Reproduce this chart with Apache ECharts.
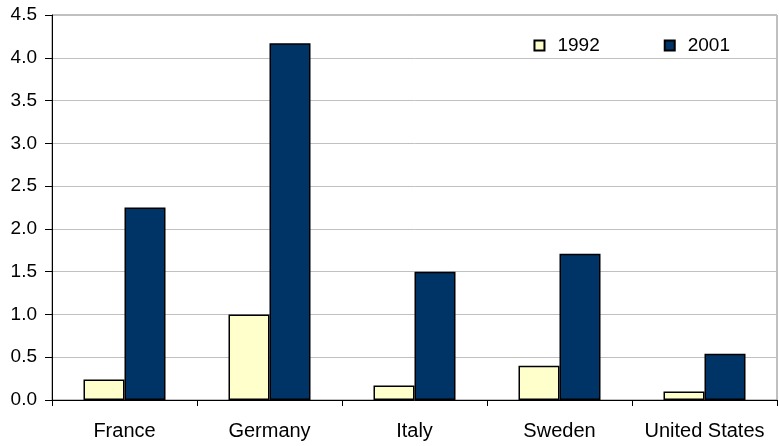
<!DOCTYPE html>
<html>
<head>
<meta charset="utf-8">
<script src="https://cdn.jsdelivr.net/npm/echarts@6/dist/echarts.min.js"></script>
<style>
  html, body { margin: 0; padding: 0; background: #fff; }
  #chart { width: 779px; height: 446px; }
</style>
</head>
<body>
<div id="chart"></div>
<script>
// Country categories and the two survey years
const countries = ['France', 'Germany', 'Italy', 'Sweden', 'United States'];
const values1992 = [0.24, 1.0, 0.17, 0.4, 0.1];
const values2001 = [2.25, 4.17, 1.5, 1.71, 0.54];
const yTicks = { min: 0, max: 4.5, step: 0.5 };

const chart = echarts.init(document.getElementById('chart'), null, { renderer: 'canvas' });
const font = 'Arial, "Liberation Sans", sans-serif';

chart.setOption({
  animation: false,
  backgroundColor: '#ffffff',
  grid: { left: 52, right: 2, top: 15, bottom: 46, show: true, borderColor: '#808080', borderWidth: 1 },
  legend: {
    top: 31, right: 44,
    icon: 'rect',
    itemWidth: 10, itemHeight: 10, itemGap: 64,
    textStyle: { fontFamily: font, fontSize: 19, color: '#000', padding: [0, 0, 0, 8] },
    data: ['1992', '2001']
  },
  xAxis: {
    type: 'category',
    data: countries,
    axisLine: { lineStyle: { color: '#000', width: 1 } },
    axisTick: { show: true, interval: 0, length: 6, lineStyle: { color: '#000' } },
    axisLabel: { interval: 0, hideOverlap: false, fontFamily: font, fontSize: 20, color: '#000', margin: 21 }
  },
  yAxis: {
    type: 'value',
    min: yTicks.min, max: yTicks.max, interval: yTicks.step,
    axisLine: { show: true, lineStyle: { color: '#000', width: 1 } },
    axisTick: { show: true, length: 7, lineStyle: { color: '#000' } },
    axisLabel: { fontFamily: font, fontSize: 19, color: '#000', margin: 15,
      formatter: v => v.toFixed(1) },
    splitLine: { lineStyle: { color: '#c0c0c0', width: 1 } }
  },
  series: [
    {
      name: '1992', type: 'bar', data: values1992,
      barWidth: 41, barGap: '0%',
      itemStyle: { color: '#ffffcc', borderColor: '#000', borderWidth: 1.5 }
    },
    {
      name: '2001', type: 'bar', data: values2001,
      barWidth: 41, barGap: '0%',
      itemStyle: { color: '#003366', borderColor: '#000', borderWidth: 1.5 }
    }
  ]
});
</script>
</body>
</html>
